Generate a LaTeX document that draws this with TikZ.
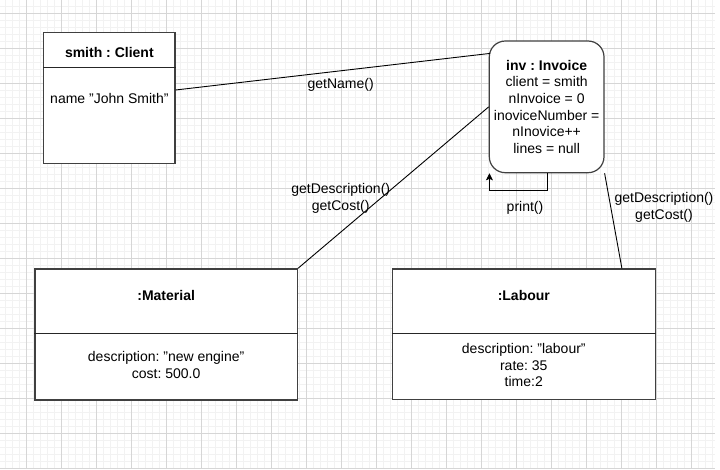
\documentclass[tikz,border=0pt]{standalone}
\usepackage{fontspec}
\setmainfont{Liberation Sans}
\usetikzlibrary{arrows.meta,calc}
\newcommand{\dqt}{\symbol{34}}
\frenchspacing
\begin{document}
\begin{tikzpicture}[x=1pt,y=-1pt,
  box/.style={draw=black!75, line width=1.2pt, fill=white, inner sep=0pt},
  divider/.style={draw=black!85, line width=1.1pt},
  conn/.style={draw=black, line width=0.9pt},
  lbl/.style={inner sep=0pt, align=center, font=\fontsize{14}{16.7}\selectfont},
  ttl/.style={inner sep=0pt, align=center, font=\fontsize{14}{16.7}\selectfont\bfseries},
  gridminor/.style={draw=black!5, line width=0.8pt},
  gridmajor/.style={draw=black!16, line width=0.8pt}]
\frenchspacing
\useasboundingbox (0,0) rectangle (720,469);
\fill[white] (0,0) rectangle (720,469);
\begin{scope}
  \clip (0,0) rectangle (715,469);
  \foreach \i in {0,...,102} \draw[gridminor] ({5.7+7*\i},0) -- ++(0,469);
  \foreach \i in {0,...,67} \draw[gridminor] (0,{-0.7+7*\i}) -- ++(715,0);
  \foreach \i in {0,...,19} \draw[gridmajor] ({26.7+35*\i},0) -- ++(0,469);
  \foreach \i in {0,...,13} \draw[gridmajor] (0,{13.3+35*\i}) -- ++(715,0);
\end{scope}

% Client
\node[box, minimum width=131.3pt, minimum height=131.4pt] (client) at (109.35,98) {};
\draw[divider] ([yshift=-35.4pt]client.north west) -- ([yshift=-35.4pt]client.north east);
\node[ttl] (clientT) at (109.35,52) {smith : Client};
\node[lbl] (clientA) at (109.35,98) {name \dqt John Smith\dqt};

% Invoice
\node[box, rounded corners=16pt, minimum width=114.7pt, minimum height=131.7pt,
      align=center, font=\fontsize{14}{16.7}\selectfont] (invoice) at (546.65,106.85)
  {\textbf{inv : Invoice}\\client = smith\\nInvoice = 0\\inoviceNumber =\\nInovice++\\lines = null};

% Material
\node[box, minimum width=262.3pt, minimum height=131pt] (material) at (166.15,334.5) {};
\draw[divider] ([yshift=-65.3pt]material.north west) -- ([yshift=-65.3pt]material.north east);
\node[ttl] (materialT) at (166.15,295) {:Material};
\node[lbl] (materialA) at (166.15,365) {description: \dqt new engine\dqt\\cost: 500.0};

% Labour
\node[box, minimum width=263pt, minimum height=130.7pt] (labour) at (523.8,334.35) {};
\draw[divider] ([yshift=-65.3pt]labour.north west) -- ([yshift=-65.3pt]labour.north east);
\node[ttl] (labourT) at (523.8,295) {:Labour};
\node[lbl] (labourA) at (523.8,365) {description: \dqt labour\dqt\\rate: 35\\time:2};

% Connectors
\draw[conn] ([yshift=8pt]client.east) -- ([xshift=1.4pt,yshift=-13pt]invoice.north west);
\draw[conn] (invoice.west) -- (material.north east);
\draw[conn] (invoice.south east) -- ([xshift=-34pt]labour.north east);
\draw[conn, -{Stealth[length=7pt,width=7pt,inset=1.5pt]}] ([xshift=0.7pt]invoice.south) -- ++(0,17.3) -| ([xshift=0.7pt]invoice.south west);

% Labels
\node[lbl] (lname) at (340.7,85) {getName()};
\node[lbl] (lmat) at (340.7,198.3) {getDescription()\\getCost()};
\node[lbl] (lprint) at (525,207.7) {print()};
\node[lbl] (llab) at (664,207.5) {getDescription()\\getCost()};
\end{tikzpicture}
\end{document}
